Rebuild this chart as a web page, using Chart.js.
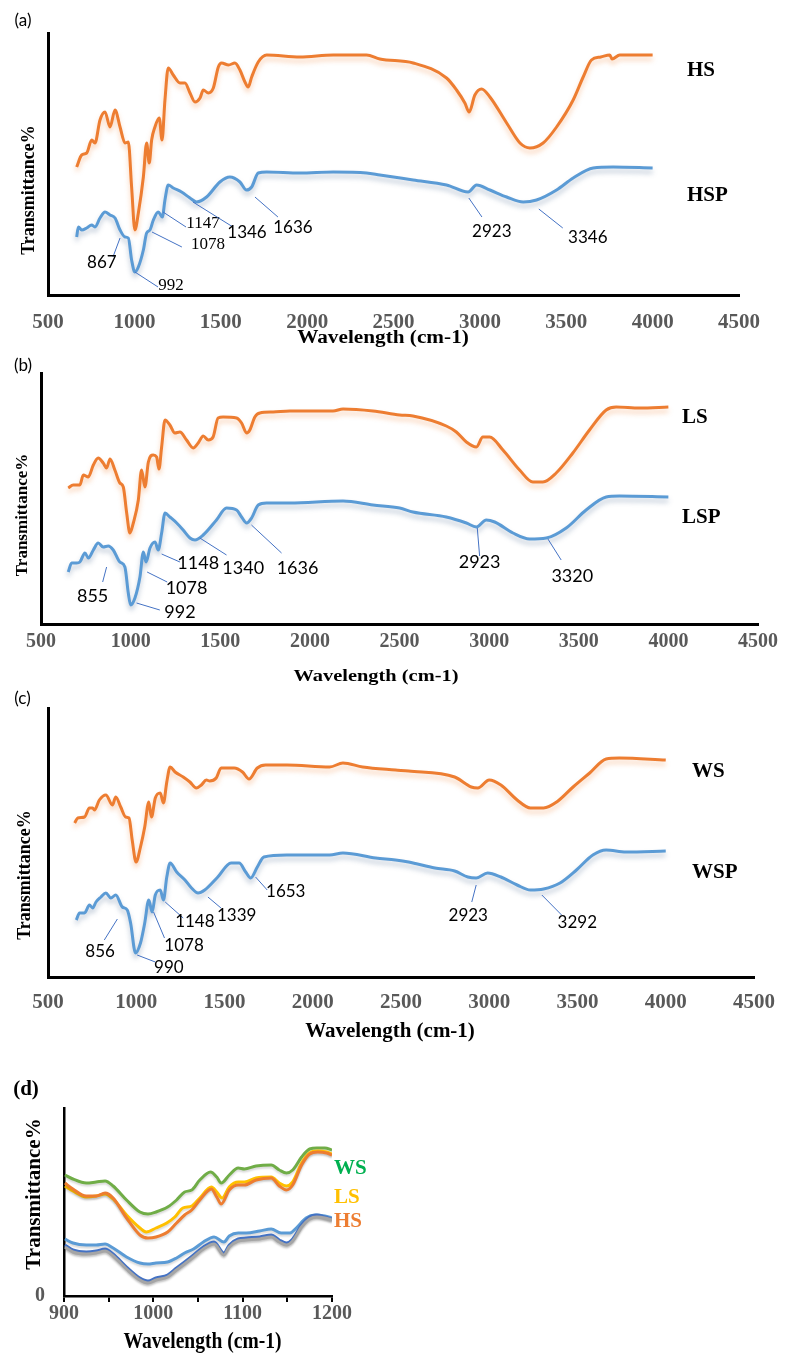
<!DOCTYPE html>
<html>
<head>
<meta charset="utf-8">
<script src="https://cdn.jsdelivr.net/npm/chart.js@4.4.1/dist/chart.umd.min.js"></script>
<style>
  body { margin: 0; background: #fff; width: 788px; height: 1353px; position: relative; overflow: hidden; }
  .panel { position: absolute; left: 0; width: 788px; }
  canvas { display: block; }
</style>
</head>
<body>
<div class="panel" style="top:0"><canvas id="chartA" width="788" height="350"></canvas></div>
<div class="panel" style="top:350px"><canvas id="chartB" width="788" height="340"></canvas></div>
<div class="panel" style="top:690px"><canvas id="chartC" width="788" height="360"></canvas></div>
<div class="panel" style="top:1050px"><canvas id="chartD" width="788" height="303"></canvas></div>

<script>
// wavenumber axis ranges (cm-1)
var fullRange = [500, 4500];
var zoomRange = [900, 1200];

// spectra: [wavenumber, transmittance (arbitrary units)]
// (a) HS / HSP
var hsA = [[666,128],[695,140],[724,142],[753,155],[772,152],[801,175],[830,183],[859,168],[888,185],[917,168],[946,152],[965,153],[984,108],[1003,65],[1023,82],[1052,118],[1071,152],[1086,132],[1100,155],[1119,168],[1144,177],[1160,155],[1177,195],[1196,227],[1225,220],[1264,212],[1293,212],[1322,202],[1351,193],[1380,197],[1399,205],[1428,202],[1457,207],[1486,228],[1505,232],[1545,230],[1582,232],[1611,225],[1640,213],[1659,208],[1679,218],[1717,233],[1766,240],[1958,238],[2151,240],[2344,240],[2421,236],[2614,232],[2807,217],[2865,205],[2913,192],[2938,183],[2971,200],[3010,206],[3058,198],[3155,172],[3232,152],[3290,147],[3366,152],[3444,168],[3540,195],[3598,218],[3646,235],[3700,238],[3752,240],[3765,236],[3810,240],[4000,240]];
var hspA = [[666,58],[676,68],[695,65],[724,67],[753,70],[772,68],[801,77],[830,83],[859,80],[888,77],[917,65],[946,58],[965,57],[984,35],[1003,23],[1023,28],[1052,45],[1071,62],[1090,65],[1110,75],[1138,83],[1162,78],[1177,95],[1196,110],[1225,107],[1273,103],[1322,97],[1360,93],[1418,98],[1495,113],[1553,118],[1611,113],[1649,105],[1679,108],[1717,122],[1766,123],[1958,122],[2151,123],[2344,122],[2421,120],[2614,115],[2807,110],[2932,103],[2981,110],[3058,105],[3155,98],[3251,93],[3328,95],[3444,105],[3540,117],[3656,127],[3772,128],[4000,127]];

// (b) LS / LSP
var lsB = [[652,136],[680,139],[717,139],[736,149],[764,147],[792,159],[819,166],[847,161],[866,156],[885,165],[912,154],[940,141],[959,137],[978,111],[996,91],[1015,101],[1043,124],[1061,154],[1080,137],[1099,162],[1126,169],[1145,167],[1158,155],[1173,177],[1192,204],[1219,199],[1247,191],[1275,192],[1312,184],[1349,176],[1377,181],[1405,188],[1433,184],[1460,187],[1488,206],[1516,207],[1591,206],[1619,201],[1647,191],[1665,194],[1693,207],[1721,211],[1795,212],[1888,213],[2129,213],[2185,215],[2352,213],[2501,209],[2575,208],[2761,198],[2817,192],[2873,182],[2929,177],[2965,187],[3003,187],[3077,174],[3170,154],[3244,142],[3300,142],[3374,151],[3467,171],[3560,194],[3653,214],[3709,217],[3839,216],[4000,217]];
var lspB = [[652,52],[671,61],[699,61],[717,62],[745,71],[764,66],[792,74],[819,81],[847,77],[875,78],[903,74],[940,62],[968,57],[987,31],[1000,19],[1024,26],[1052,47],[1071,72],[1086,62],[1108,76],[1136,82],[1154,74],[1173,91],[1192,111],[1219,107],[1257,101],[1293,94],[1331,86],[1359,84],[1405,89],[1479,104],[1535,116],[1591,114],[1619,107],[1647,101],[1675,106],[1712,119],[1758,121],[1888,121],[2185,123],[2352,119],[2501,116],[2575,112],[2761,107],[2873,101],[2929,97],[2984,104],[3031,102],[3133,91],[3226,85],[3319,86],[3430,96],[3541,114],[3653,127],[3727,128],[4000,127]];

// (c) WS / WSP
var wsC = [[651,154],[669,159],[707,160],[735,169],[753,169],[763,167],[791,177],[828,182],[865,172],[884,180],[912,170],[940,160],[959,159],[977,137],[999,115],[1024,130],[1048,150],[1071,175],[1086,160],[1108,179],[1136,184],[1154,174],[1173,195],[1192,210],[1220,205],[1266,200],[1304,195],[1341,189],[1369,192],[1397,197],[1416,196],[1453,199],[1481,209],[1555,209],[1602,205],[1639,198],[1686,209],[1732,212],[1854,212],[2096,210],[2171,214],[2283,210],[2469,207],[2543,206],[2804,200],[2898,190],[2935,189],[3000,197],[3066,192],[3158,177],[3233,169],[3308,169],[3382,175],[3475,190],[3569,204],[3662,218],[3737,219],[4000,217]];
var wspC = [[660,57],[679,64],[707,64],[735,72],[753,69],[772,75],[800,80],[828,84],[856,79],[884,82],[921,70],[949,67],[968,54],[996,24],[1024,34],[1048,54],[1071,77],[1090,65],[1108,82],[1136,87],[1154,77],[1173,100],[1192,114],[1229,105],[1276,97],[1313,89],[1350,84],[1388,87],[1462,100],[1537,114],[1583,114],[1620,105],[1648,99],[1686,110],[1723,120],[1853,122],[2096,122],[2171,124],[2357,119],[2469,117],[2543,115],[2692,109],[2804,106],[2879,100],[2926,99],[2991,104],[3066,100],[3158,92],[3233,87],[3308,88],[3401,94],[3494,107],[3587,122],[3662,127],[3774,125],[4000,126]];

// (d) 900-1200 cm-1 close-up
var wsD = [[901,121],[910,117],[925,113],[936,114],[946,115],[955,110],[970,96],[985,84],[994,82],[1003,84],[1016,89],[1026,96],[1035,104],[1043,106],[1052,116],[1064,124],[1071,119],[1076,113],[1085,121],[1095,128],[1102,127],[1115,130],[1132,131],[1141,126],[1149,123],[1156,126],[1166,139],[1175,147],[1183,148],[1192,148],[1200,146]];
var lsD = [[901,110],[910,105],[925,99],[936,100],[946,102],[955,97],[970,81],[985,68],[992,64],[1003,68],[1015,73],[1024,79],[1033,88],[1043,90],[1052,98],[1065,109],[1071,104],[1077,98],[1085,109],[1095,114],[1102,114],[1115,118],[1132,119],[1141,113],[1149,110],[1156,114],[1166,133],[1175,143],[1184,145],[1194,144],[1200,142]];
var hsD = [[901,113],[910,107],[925,100],[936,100],[946,103],[955,98],[970,78],[985,61],[994,58],[1003,59],[1016,64],[1026,73],[1035,81],[1043,86],[1052,96],[1065,107],[1071,99],[1076,92],[1085,106],[1095,111],[1102,111],[1115,116],[1132,118],[1141,110],[1149,106],[1156,111],[1166,131],[1175,142],[1184,144],[1194,143],[1200,141]];
var wspD = [[901,57],[910,53],[925,51],[936,51],[946,52],[955,48],[970,39],[985,33],[994,32],[1003,33],[1016,34],[1026,38],[1035,43],[1045,47],[1056,54],[1068,59],[1079,54],[1085,60],[1095,63],[1104,63],[1119,65],[1132,67],[1143,63],[1153,63],[1160,68],[1171,78],[1181,81],[1192,80],[1200,78]];
var hspD = [[901,51],[910,46],[925,44],[936,45],[946,47],[955,42],[970,29],[985,18],[994,15],[1003,18],[1016,21],[1026,28],[1035,34],[1045,41],[1056,49],[1068,54],[1079,43],[1085,51],[1095,57],[1104,58],[1119,59],[1132,61],[1141,56],[1149,53],[1156,57],[1166,71],[1175,79],[1183,81],[1192,79],[1200,77]];
var lspD = [[901,49],[910,44],[925,42],[936,43],[946,45],[955,40],[970,27],[985,16],[994,13],[1003,16],[1016,19],[1026,26],[1035,32],[1045,39],[1056,47],[1068,52],[1079,41],[1085,49],[1095,55],[1104,56],[1119,57],[1132,59],[1141,54],[1149,51],[1156,55],[1166,69],[1175,77],[1183,79],[1192,78],[1200,76]];

// peak labels: [text, lineFromX, lineFromY, lineToX, lineToY, textX, textY, face]
var notesA = [
  ['867', 917,57, 876,38, 812,32, 'sans'],
  ['992', 1003,23, 1137,8, 1212,9, 'serif'],
  ['1078', 1102,63, 1275,48, 1426,50, 'serif'],
  ['1147', 1166,83, 1299,68, 1397,71, 'serif'],
  ['1346', 1339,93, 1571,68, 1652,62, 'sans'],
  ['1636', 1698,98, 1831,78, 1918,67, 'sans'],
  ['2923', 2936,97, 3012,78, 3069,63, 'sans'],
  ['3346', 3341,86, 3480,67, 3625,57, 'sans']
];
var notesB = [
  ['855', 866,57, 844,42, 788,28, 'sans'],
  ['992', 1033,21, 1163,14, 1275,12, 'sans'],
  ['1078', 1092,52, 1204,42, 1312,36, 'sans'],
  ['1148', 1173,70, 1275,62, 1377,61, 'sans'],
  ['1340', 1386,86, 1535,69, 1628,56, 'sans'],
  ['1636', 1674,99, 1842,71, 1931,56, 'sans'],
  ['2923', 2934,96, 2947,68, 2947,62, 'sans'],
  ['3320', 3328,85, 3402,64, 3464,48, 'sans']
];
var notesC = [
  ['856', 893,58, 819,37, 795,25, 'sans'],
  ['990', 1005,22, 1108,15, 1185,9, 'sans'],
  ['1078', 1098,65, 1160,39, 1271,31, 'sans'],
  ['1148', 1164,75, 1266,59, 1332,55, 'sans'],
  ['1339', 1406,80, 1480,69, 1569,61, 'sans'],
  ['1653', 1676,100, 1742,87, 1847,85, 'sans'],
  ['2923', 2926,92, 2901,75, 2881,61, 'sans'],
  ['3292', 3298,82, 3410,62, 3499,54, 'sans']
];

var ORANGE = '#ED7D31', BLUE = '#5B9BD5';
var serif = '"Liberation Serif", serif';
var sans = 'Lato, "Liberation Sans", sans-serif';

// extra text for each canvas (titles, panel letters, series names)
var panelExtras = {
  chartA: { notes: notesA, noteSize: 17, texts: [
    { t: '(a)', x: 23, y: 21, font: '17px ' + sans },
    { t: 'Transmittance%', x: 29.5, y: 190, font: 'bold 18px ' + serif, rot: -Math.PI/2 },
    { t: 'Wavelength (cm-1)', x: 383, y: 343, font: 'bold 18px ' + serif, base: 'alphabetic', sx: 1.18 },
    { t: 'HS', x: 687, y: 76, font: 'bold 21px ' + serif, align: 'left', base: 'alphabetic' },
    { t: 'HSP', x: 687, y: 201, font: 'bold 21px ' + serif, align: 'left', base: 'alphabetic' }
  ]},
  chartB: { notes: notesB, noteSize: 18, texts: [
    { t: '(b)', x: 23, y: 16, font: '17px ' + sans },
    { t: 'Transmittance%', x: 22.5, y: 165, font: 'bold 17px ' + serif, rot: -Math.PI/2 },
    { t: 'Wavelength (cm-1)', x: 376, y: 331, font: 'bold 17px ' + serif, base: 'alphabetic', sx: 1.2 },
    { t: 'LS', x: 682, y: 73, font: 'bold 21px ' + serif, align: 'left', base: 'alphabetic' },
    { t: 'LSP', x: 682, y: 173, font: 'bold 21px ' + serif, align: 'left', base: 'alphabetic' }
  ]},
  chartC: { notes: notesC, noteSize: 17, texts: [
    { t: '(c)', x: 22.5, y: 9, font: '17px ' + sans },
    { t: 'Transmittance%', x: 25.5, y: 185, font: 'bold 18px ' + serif, rot: -Math.PI/2 },
    { t: 'Wavelength (cm-1)', x: 390, y: 347, font: 'bold 21px ' + serif, base: 'alphabetic' },
    { t: 'WS', x: 692, y: 87, font: 'bold 21px ' + serif, align: 'left', base: 'alphabetic' },
    { t: 'WSP', x: 692, y: 188, font: 'bold 21px ' + serif, align: 'left', base: 'alphabetic' }
  ]},
  chartD: { texts: [
    { t: '(d)', x: 26, y: 40, font: 'bold 21px ' + serif },
    { t: 'Transmittance%', x: 35, y: 144, font: 'bold 21px ' + serif, rot: -Math.PI/2 },
    { t: 'Wavelength (cm-1)', x: 202.5, y: 298, font: 'bold 23px ' + serif, base: 'alphabetic', sx: 0.85 },
    { t: 'WS', x: 334, y: 124, font: 'bold 21px ' + serif, align: 'left', base: 'alphabetic', color: '#00B050' },
    { t: 'LS', x: 334, y: 153, font: 'bold 21px ' + serif, align: 'left', base: 'alphabetic', color: '#FFC000' },
    { t: 'HS', x: 334, y: 177, font: 'bold 21px ' + serif, align: 'left', base: 'alphabetic', color: ORANGE }
  ]}
};

// soft drop shadow under each trace, like the office glow effect
var glowPlugin = {
  id: 'glow',
  beforeDatasetDraw: function(chart, args){
    var ds = chart.data.datasets[args.index];
    chart.ctx.save();
    if(ds.glow){
      chart.ctx.shadowColor = ds.glow;
      chart.ctx.shadowBlur = ds.glowBlur || 5;
      chart.ctx.shadowOffsetY = ds.glowOffset || 4;
    }
  },
  afterDatasetDraw: function(chart){ chart.ctx.restore(); }
};

var notesPlugin = {
  id: 'peakNotes',
  afterDatasetsDraw: function(chart){
    var ex = panelExtras[chart.canvas.id];
    if(!ex || !ex.notes) return;
    var xs = chart.scales.x, ys = chart.scales.y, ctx = chart.ctx;
    ctx.save();
    ctx.strokeStyle = '#4472C4';
    ctx.lineWidth = 1;
    ctx.fillStyle = '#000';
    ctx.textAlign = 'center';
    ctx.textBaseline = 'middle';
    for(var i = 0; i < ex.notes.length; i++){
      var n = ex.notes[i];
      ctx.beginPath();
      ctx.moveTo(xs.getPixelForValue(n[1]), ys.getPixelForValue(n[2]));
      ctx.lineTo(xs.getPixelForValue(n[3]), ys.getPixelForValue(n[4]));
      ctx.stroke();
      ctx.font = ex.noteSize + 'px ' + (n[7] === 'serif' ? serif : sans);
      ctx.fillText(n[0], xs.getPixelForValue(n[5]), ys.getPixelForValue(n[6]));
    }
    ctx.restore();
  }
};

var textPlugin = {
  id: 'panelText',
  afterDraw: function(chart){
    var ex = panelExtras[chart.canvas.id];
    if(!ex) return;
    var ctx = chart.ctx;
    ex.texts.forEach(function(it){
      ctx.save();
      ctx.font = it.font;
      ctx.fillStyle = it.color || '#000';
      ctx.textAlign = it.align || 'center';
      ctx.textBaseline = it.base || 'middle';
      ctx.translate(it.x, it.y);
      if(it.rot) ctx.rotate(it.rot);
      if(it.sx) ctx.scale(it.sx, 1);
      ctx.fillText(it.t, 0, 0);
      ctx.restore();
    });
  }
};

function toPoints(pairs){
  return pairs.map(function(p){ return { x: p[0], y: p[1] }; });
}

function buildPanel(id, cfg){
  var datasets = cfg.series.map(function(s){
    return {
      label: s.label, data: toPoints(s.pts),
      borderColor: s.colour, borderWidth: s.width || 3,
      glow: s.glow, glowBlur: s.blur, glowOffset: s.offset,
      pointRadius: 0, fill: false, cubicInterpolationMode: 'monotone'
    };
  });

  var xTicks = {
    stepSize: cfg.step, autoSkip: false, maxRotation: 0, padding: cfg.tickPad,
    color: '#595959', font: { family: 'Liberation Serif', size: cfg.tickSize, weight: 'bold' },
    callback: function(v){
      if(cfg.labelEvery && v % cfg.labelEvery !== 0) return '';
      return String(v);
    }
  };

  return new Chart(document.getElementById(id).getContext('2d'), {
    type: 'line',
    data: { datasets: datasets },
    options: {
      responsive: false, animation: false, events: [],
      layout: { padding: cfg.pad },
      plugins: { legend: { display: false }, tooltip: { enabled: false } },
      scales: {
        x: {
          type: 'linear', min: cfg.range[0], max: cfg.range[1],
          afterFit: function(s){ s.height = 40; },
          ticks: xTicks,
          grid: cfg.tickMarks
            ? { display: true, drawOnChartArea: false, drawTicks: true, tickLength: 6, color: '#000', lineWidth: 2 }
            : { display: false, drawTicks: false },
          border: { display: true, color: '#000', width: cfg.axisWidth }
        },
        y: {
          type: 'linear', min: 0, max: cfg.yMax,
          afterFit: function(s){ s.width = cfg.axisLeft; },
          ticks: cfg.zeroLabel
            ? { stepSize: 1000, padding: 19, color: '#595959', font: { family: 'Liberation Serif', size: 20, weight: 'bold' },
                callback: function(v){ return v === 0 ? '0' : ''; } }
            : { display: false },
          grid: { display: false, drawTicks: false },
          border: { display: true, color: '#000', width: cfg.axisWidth }
        }
      }
    },
    plugins: [glowPlugin, notesPlugin, textPlugin]
  });
}

var orangeGlow = 'rgba(237,125,49,0.35)';
var blueGlow = 'rgba(70,100,140,0.35)';

// bottom padding = canvas height - plot bottom - 40 (x scale box)
buildPanel('chartA', {
  range: fullRange, step: 500, tickSize: 21, tickPad: 15, yMax: 262, axisLeft: 48, axisWidth: 3,
  pad: { left: 0, top: 33, right: 49, bottom: 15 },
  series: [
    { label: 'HS', pts: hsA, colour: ORANGE, glow: orangeGlow },
    { label: 'HSP', pts: hspA, colour: BLUE, glow: blueGlow }
  ]
});

buildPanel('chartB', {
  range: fullRange, step: 500, tickSize: 20, tickPad: 6, yMax: 251, axisLeft: 41, axisWidth: 3,
  pad: { left: 0, top: 23, right: 30, bottom: 26 },
  series: [
    { label: 'LS', pts: lsB, colour: ORANGE, glow: orangeGlow },
    { label: 'LSP', pts: lspB, colour: BLUE, glow: blueGlow }
  ]
});

buildPanel('chartC', {
  range: fullRange, step: 500, tickSize: 21, tickPad: 13, yMax: 269, axisLeft: 48, axisWidth: 3,
  pad: { left: 0, top: 18, right: 25, bottom: 33 },
  series: [
    { label: 'WS', pts: wsC, colour: ORANGE, glow: orangeGlow },
    { label: 'WSP', pts: wspC, colour: BLUE, glow: blueGlow }
  ]
});

buildPanel('chartD', {
  range: zoomRange, step: 50, labelEvery: 100, tickMarks: true, zeroLabel: true,
  tickSize: 20, tickPad: 0, yMax: 188, axisLeft: 64, axisWidth: 2.5,
  pad: { left: 0, top: 58, right: 456, bottom: 17 },
  series: [
    { label: 'LSP', pts: lspD, colour: '#A5A5A5', glow: 'rgba(0,0,0,0.2)', blur: 2, offset: 2 },
    { label: 'HSP', pts: hspD, colour: '#4472C4', glow: 'rgba(0,0,0,0.2)', blur: 2, offset: 2 },
    { label: 'WSP', pts: wspD, colour: BLUE, glow: 'rgba(0,0,0,0.15)', blur: 2, offset: 2 },
    { label: 'HS', pts: hsD, colour: ORANGE, glow: 'rgba(0,0,0,0.15)', blur: 2, offset: 2 },
    { label: 'LS', pts: lsD, colour: '#FFC000', glow: 'rgba(0,0,0,0.15)', blur: 2, offset: 2 },
    { label: 'WS', pts: wsD, colour: '#70AD47', glow: 'rgba(0,0,0,0.15)', blur: 2, offset: 2 }
  ]
});
</script>
</body>
</html>
